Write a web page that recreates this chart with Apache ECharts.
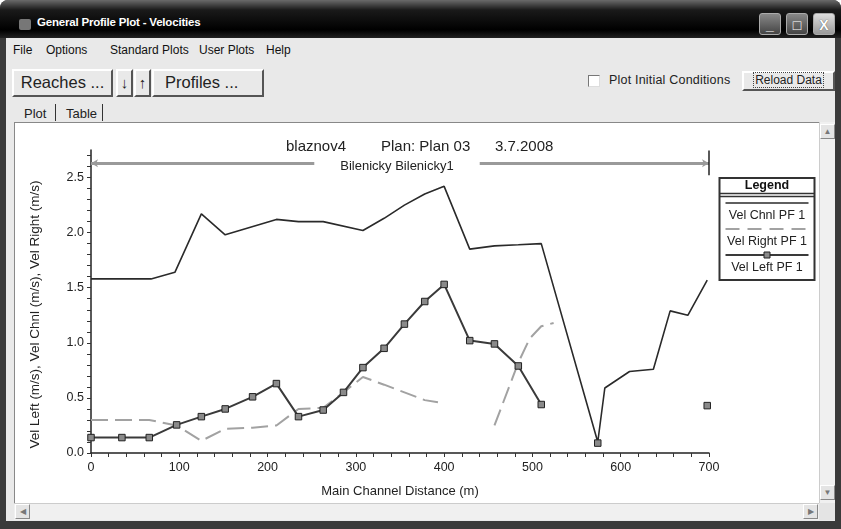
<!DOCTYPE html>
<html>
<head>
<meta charset="utf-8">
<script src="https://cdn.jsdelivr.net/npm/echarts@6/dist/echarts.min.js"></script>
<style>
  body { margin:0; width:841px; height:529px; overflow:hidden; background:#fff; font-family:"Liberation Sans", Arial, sans-serif; }
  .abs { position:absolute; }
  #win { left:0; top:0; width:841px; height:529px; background:#3a3a3a; border-radius:8px 8px 0 0; overflow:hidden; }
  #titlebar { left:0; top:0; width:841px; height:38px; background:linear-gradient(#6a6a6a 0px, #1a1a1a 10px, #000 30px, #222 38px); }
  #ttl { left:37px; top:16px; color:#fff; font-weight:bold; font-size:11.5px; letter-spacing:-0.2px; }
  #icon { left:19px; top:19px; width:12px; height:11px; background:#777; border-radius:2px; }
  .wbtn { top:13px; width:22px; height:22px; border:1px solid #aaa; border-radius:3px; background:linear-gradient(#888,#444); color:#fff; font-weight:bold; font-size:14px; text-align:center; line-height:22px; box-sizing:border-box; }
  #body { left:6px; top:38px; width:829px; height:483px; background:#e9e9e9; }
  .menu { top:43px; font-size:12px; color:#111; white-space:nowrap; }
  .btn { box-sizing:border-box; background:#e9e9e9; border:2px solid; border-color:#fff #555 #555 #fff; color:#222; text-align:center; white-space:nowrap; }
  #panel { left:14px; top:122px; width:805px; height:381px; background:#fff; border-top:1px solid #888; border-left:1px solid #888; box-sizing:border-box; }
  #vscroll { left:819px; top:122px; width:16px; height:381px; background:#f0f0f0; border-left:1px solid #ccc; box-sizing:border-box; }
  #hscroll { left:14px; top:503px; width:805px; height:17px; background:#f0f0f0; border-top:1px solid #ccc; box-sizing:border-box; }
  .sb { width:15px; height:15px; background:#e4e4e4; border:1px solid; border-color:#fff #888 #888 #fff; box-sizing:border-box; font-size:8px; color:#777; text-align:center; line-height:13px; }
  #chart { left:0; top:0; width:841px; height:529px; }
</style>
</head>
<body>
<div id="win" class="abs">
  <div id="titlebar" class="abs"></div>
  <div id="icon" class="abs"></div>
  <div id="ttl" class="abs">General Profile Plot - Velocities</div>
  <div class="abs wbtn" style="left:759px;">_</div>
  <div class="abs wbtn" style="left:786px;">&#9633;</div>
  <div class="abs wbtn" style="left:813px;background:linear-gradient(#ddd,#999);color:#fff;text-shadow:0 0 1px #333;">X</div>
  <div id="body" class="abs"></div>
  <div class="abs menu" style="left:13px;">File</div>
  <div class="abs menu" style="left:46px;">Options</div>
  <div class="abs menu" style="left:110px;">Standard Plots</div>
  <div class="abs menu" style="left:199px;">User Plots</div>
  <div class="abs menu" style="left:266px;">Help</div>
  <div class="abs btn" style="left:12px;top:69px;width:101px;height:28px;font-size:16.5px;line-height:23px;">Reaches ...</div>
  <div class="abs btn" style="left:116px;top:69px;width:17px;height:28px;font-size:15px;font-weight:bold;line-height:23px;">&#8595;</div>
  <div class="abs btn" style="left:134px;top:69px;width:17px;height:28px;font-size:15px;font-weight:bold;line-height:23px;">&#8593;</div>
  <div class="abs btn" style="left:152px;top:69px;width:112px;height:28px;font-size:16.5px;line-height:23px;text-align:left;padding-left:11px;">Profiles ...</div>
  <div class="abs" style="left:588px;top:75px;width:12px;height:12px;background:#fff;border:1px solid;border-color:#777 #ddd #ddd #777;box-sizing:border-box;"></div>
  <div class="abs" style="left:609px;top:73px;font-size:12.5px;letter-spacing:0.2px;color:#222;">Plot Initial Conditions</div>
  <div class="abs btn" style="left:742px;top:71px;width:93px;height:20px;font-size:12px;line-height:15px;"><span style="outline:1px dotted #444;padding:0 1px;">Reload Data</span></div>
  <div class="abs" style="left:24px;top:106px;font-size:13px;color:#222;">Plot</div>
  <div class="abs" style="left:55px;top:104px;width:1px;height:17px;background:#333;"></div>
  <div class="abs" style="left:66px;top:106px;font-size:13px;color:#222;">Table</div>
  <div class="abs" style="left:102px;top:104px;width:1px;height:17px;background:#333;"></div>
  <div id="panel" class="abs"></div>
  <div id="vscroll" class="abs">
    <div class="abs sb" style="left:0;top:2px;">&#9650;</div>
    <div class="abs sb" style="left:0;top:363px;">&#9660;</div>
  </div>
  <div id="hscroll" class="abs">
    <div class="abs sb" style="left:1px;top:0;">&#9664;</div>
    <div class="abs sb" style="left:789px;top:0;">&#9654;</div>
  </div>
  <div class="abs" style="left:819px;top:503px;width:16px;height:17px;background:#e4e4e4;"></div>
  <div id="chart" class="abs"></div>
</div>
<script>
// ---- data ----
const distChnl = [0, 35, 68, 95, 125, 152, 210, 235, 263, 308, 332, 355, 378, 400, 429, 457, 484, 510, 574, 582, 610, 637, 656, 676, 698];
const velChnl  = [1.58, 1.58, 1.58, 1.64, 2.17, 1.98, 2.12, 2.10, 2.10, 2.02, 2.13, 2.25, 2.35, 2.42, 1.85, 1.88, 1.89, 1.90, 0.10, 0.59, 0.74, 0.76, 1.29, 1.25, 1.57];

const distRight = [0, 35, 66, 97, 125, 152, 183, 210, 235, 263, 286, 308, 332, 355, 378, 393, 425, 457, 484, 497, 510, 524];
const velRight  = [0.30, 0.30, 0.30, 0.25, 0.11, 0.22, 0.23, 0.25, 0.40, 0.41, 0.55, 0.69, 0.62, 0.55, 0.48, 0.46, null, 0.25, 0.82, 1.04, 1.15, 1.18];

const distLeft = [0, 35, 66, 97, 125, 152, 183, 210, 235, 263, 286, 308, 332, 355, 378, 400, 429, 457, 484, 510, 540, 574, 640, 698];
const velLeft  = [0.14, 0.14, 0.14, 0.255, 0.33, 0.40, 0.51, 0.63, 0.33, 0.39, 0.55, 0.775, 0.95, 1.17, 1.375, 1.53, 1.02, 0.99, 0.79, 0.44, null, 0.09, null, 0.43];

const seriesNames = ['Vel Chnl PF 1', 'Vel Right PF 1', 'Vel Left PF 1'];
const reachName = 'Bilenicky Bilenicky1';
const reachStart = 0, reachEnd = 700, reachLevel = 2.63;
const titleParts = ['blaznov4', 'Plan: Plan 03', '3.7.2008'];
const xTitle = 'Main Channel Distance (m)';
const yTitle = 'Vel Left (m/s), Vel Chnl (m/s), Vel Right (m/s)';

function pairs(xs, ys) { return xs.map((x, i) => [x, ys[i] === null ? '-' : ys[i]]); }

const FONT = '"Liberation Sans", Arial, sans-serif';
const chart = echarts.init(document.getElementById('chart'), null, { renderer: 'canvas' });

const legendX = 717, legendY = 177, legendW = 95, legendH = 102;

const legendGroup = {
  id: 'legendBox', type: 'group', left: legendX, top: legendY, silent: true,
  children: [
    { type: 'rect', shape: { x: 0, y: 0, width: legendW, height: legendH }, style: { fill: '#fff', stroke: '#333', lineWidth: 2 } },
    { type: 'text', style: { x: legendW / 2, y: 8, text: 'Legend', font: 'bold 12.5px ' + FONT, fill: '#111', align: 'center', verticalAlign: 'middle' } },
    { type: 'line', shape: { x1: 0, y1: 15.5, x2: legendW, y2: 15.5 }, style: { stroke: '#333', lineWidth: 1.5 } },
    { type: 'line', shape: { x1: 0, y1: 18.5, x2: legendW, y2: 18.5 }, style: { stroke: '#333', lineWidth: 1.5 } },
    { type: 'line', shape: { x1: 6, y1: 25, x2: legendW - 6, y2: 25 }, style: { stroke: '#2a2a2a', lineWidth: 1.6 } },
    { type: 'text', style: { x: legendW / 2, y: 38, text: seriesNames[0], font: '12.5px ' + FONT, fill: '#222', align: 'center', verticalAlign: 'middle' } },
    { type: 'line', shape: { x1: 6, y1: 51, x2: legendW - 6, y2: 51 }, style: { stroke: '#a2a2a2', lineWidth: 2, lineDash: [14, 8] } },
    { type: 'text', style: { x: legendW / 2, y: 64, text: seriesNames[1], font: '12.5px ' + FONT, fill: '#222', align: 'center', verticalAlign: 'middle' } },
    { type: 'line', shape: { x1: 6, y1: 77, x2: legendW - 6, y2: 77 }, style: { stroke: '#3a3a3a', lineWidth: 2 } },
    { type: 'rect', shape: { x: legendW / 2 - 3, y: 74, width: 6, height: 6 }, style: { fill: '#8a8a8a', stroke: '#222', lineWidth: 1 } },
    { type: 'text', style: { x: legendW / 2, y: 90, text: seriesNames[2], font: '12.5px ' + FONT, fill: '#222', align: 'center', verticalAlign: 'middle' } }
  ]
};

chart.setOption({
  animation: false,
  backgroundColor: 'transparent',
  textStyle: { fontFamily: FONT },
  title: [
    { text: titleParts[0], left: 281, top: 134, textStyle: { fontSize: 15, fontWeight: 'normal', color: '#222', fontFamily: FONT } },
    { text: titleParts[1], left: 376, top: 134, textStyle: { fontSize: 15, fontWeight: 'normal', color: '#222', fontFamily: FONT } },
    { text: titleParts[2], left: 490, top: 134, textStyle: { fontSize: 15, fontWeight: 'normal', color: '#222', fontFamily: FONT } }
  ],
  grid: { left: 91, right: 132, top: 150, bottom: 76, containLabel: false },
  xAxis: {
    type: 'value', min: 0, max: 700, interval: 100,
    name: xTitle, nameLocation: 'middle', nameGap: 32,
    nameTextStyle: { fontSize: 13, color: '#222', fontFamily: FONT },
    axisLine: { show: true, onZero: false, lineStyle: { color: '#222', width: 1.5 } },
    axisTick: { show: true, length: 4, lineStyle: { color: '#333' } },
    minorTick: { show: true, splitNumber: 5, length: 4, lineStyle: { color: '#333' } },
    axisLabel: { fontSize: 12.5, color: '#222', margin: 8, fontFamily: FONT },
    splitLine: { show: false }
  },
  yAxis: {
    type: 'value', min: 0, max: 2.75, interval: 0.1,
    name: yTitle, nameLocation: 'middle', nameGap: 49,
    nameTextStyle: { fontSize: 13.5, color: '#222', fontFamily: FONT, padding: [0, 26, 0, 0] },
    axisLine: { show: true, lineStyle: { color: '#222', width: 1.5 } },
    axisTick: { show: true, length: 4, lineStyle: { color: '#333' } },
    axisLabel: {
      fontSize: 12.5, color: '#222', margin: 7, fontFamily: FONT, showMaxLabel: false,
      formatter: v => (Math.abs(v * 2 - Math.round(v * 2)) < 1e-6 ? v.toFixed(1) : '')
    },
    splitLine: { show: false }
  },
  series: [
    {
      name: seriesNames[0], type: 'line', data: pairs(distChnl, velChnl),
      showSymbol: false, symbol: 'none', z: 2,
      lineStyle: { color: '#2a2a2a', width: 1.6 },
      markLine: {
        silent: true, symbol: ['none', 'none'], label: { show: false },
        data: [
          [
            { coord: [reachStart, reachLevel], symbol: 'arrow', symbolSize: [6, 7],
              lineStyle: { color: '#9a9a9a', width: 3, type: 'solid' } },
            { coord: [reachEnd, reachLevel], symbol: 'arrow', symbolSize: [6, 7] }
          ],
          [
            { coord: [reachEnd, 2.52], lineStyle: { color: '#222', width: 1.5, type: 'solid' } },
            { coord: [reachEnd, 2.745] }
          ]
        ]
      }
    },
    {
      name: seriesNames[1], type: 'line', data: pairs(distRight, velRight),
      showSymbol: false, symbol: 'none', connectNulls: false, z: 3,
      lineStyle: { color: '#a2a2a2', width: 2, type: [17, 7] }
    },
    {
      name: seriesNames[2], type: 'line', data: pairs(distLeft, velLeft),
      showSymbol: true, showAllSymbol: true, connectNulls: false, z: 4,
      symbol: 'rect', symbolSize: 6.5,
      itemStyle: { color: '#8a8a8a', borderColor: '#222', borderWidth: 1 },
      lineStyle: { color: '#3a3a3a', width: 2 }
    }
  ],
  graphic: [legendGroup]
});

// reach label centred on the reach line, positioned through the axis scales
const mid = chart.convertToPixel({ gridIndex: 0 }, [(reachStart + reachEnd) / 2, reachLevel]);
chart.setOption({
  graphic: [legendGroup, {
    id: 'reachLabel', type: 'text', x: mid[0] - 3, y: mid[1] + 3, z: 100, silent: true,
    style: { text: reachName, font: '13px ' + FONT, fill: '#222', align: 'center', verticalAlign: 'middle',
             backgroundColor: '#fff', padding: [3, 26] }
  }]
});
</script>
</body>
</html>
